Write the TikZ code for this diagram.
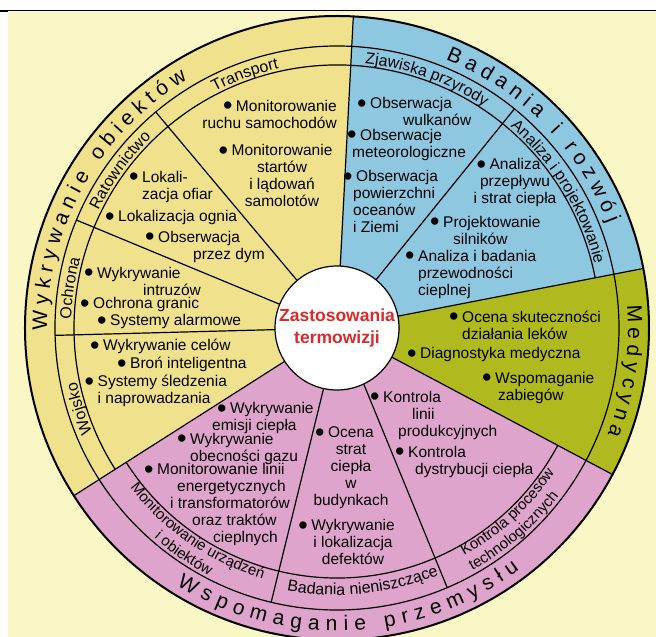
\documentclass[tikz,border=0pt]{standalone}
\usepackage{fontspec}
\setmainfont{Liberation Sans}
\usetikzlibrary{decorations.text}

\definecolor{pagebg}{HTML}{FAF7C6}
\definecolor{yelsec}{HTML}{F0E18C}
\definecolor{bluesec}{HTML}{8EC7E0}
\definecolor{greensec}{HTML}{B0BA1E}
\definecolor{pinksec}{HTML}{DEA4CC}
\definecolor{hubred}{HTML}{DC2A2A}

% bullet hanging left of the first line
\newcommand{\bul}{\llap{\raisebox{-3.8pt}{\fontsize{27}{17}\selectfont\textbullet}\hspace{3.5pt}}}
\newcommand{\ringfont}{\fontsize{21}{23}\selectfont}
\newcommand{\subfont}{\fontsize{16}{18}\selectfont}
\newcommand{\pairfont}{\fontsize{15}{17}\selectfont}

\begin{document}
\begin{tikzpicture}[
        x=1pt, y=1pt,
        item/.style={font=\fontsize{15.5}{17}\selectfont, inner sep=0pt, align=left, anchor=west},
        itemc/.style={item, align=center, anchor=center},
        itemr/.style={item, align=right, anchor=east},
        sep/.style={line width=1.2pt},
        ringtext/.style={decorate, decoration={text along path, text align=fit to path, text={|\ringfont|#1}}},
        subtext/.style={decorate, decoration={text along path, text align=center, text={|\subfont|#1}}},
        pairtext/.style={decorate, decoration={text along path, text align=center, text={|\pairfont|#1}}}
        ]

        % page
        \useasboundingbox (-337,-309) rectangle (319,328);
        \fill[white] (-337,-309) rectangle (319,328);
        \fill[pagebg] (-329,-309) rectangle (319,317.5);
        \draw[line width=0.9pt] (-337,318) -- (319,318);
        \fill[black] (-337,318.3) rectangle (-329,315.5);

        % sectors
        \fill[yelsec] (0,0) -- (87:312) arc[start angle=87, end angle=212.5, radius=312] -- cycle;
        \fill[bluesec] (0,0) -- (11:312) arc[start angle=11, end angle=87, radius=312] -- cycle;
        \fill[greensec] (0,0) -- (-28:312) arc[start angle=-28, end angle=11, radius=312] -- cycle;
        \fill[pinksec] (0,0) -- (212.5:312) arc[start angle=212.5, end angle=332, radius=312] -- cycle;

        % rings
        \draw[line width=2pt] (0,0) circle[radius=312];
        \draw[sep] (0,0) circle[radius=282];
        \draw[sep] (11:263) arc[start angle=11, end angle=212.5, radius=263];
        \draw[sep] (212.5:250) arc[start angle=212.5, end angle=332, radius=250];

        % dividers
        \foreach \a in {87,11,-28,212.5}
        \draw[sep] (\a:62) -- (\a:312);
        \foreach \a in {130,157.5,181.5,51}
        \draw[sep] (\a:62) -- (\a:282);
        \draw[sep] (257.5:62) -- (256.5:282);
        \draw[sep] (295.5:62) -- (293:282);

        % hub
        \node[circle, draw, line width=1.2pt, fill=white, minimum size=124pt, inner sep=0pt,
              font=\bfseries\fontsize{17.5}{21.5}\selectfont, text=hubred, align=center] (hub) at (0,0) {Zastosowania\\termowizji};

        % main labels
        \path[ringtext=Wykrywanie obiektów] (180.5:290) arc[start angle=180.5, end angle=121, radius=290];
        \path[ringtext=Badania i rozwój] (68:290) arc[start angle=68, end angle=21, radius=290];
        \path[ringtext=Medycyna] (4.5:291) arc[start angle=4.5, end angle=-21.5, radius=291];
        \path[ringtext=Wspomaganie przemysłu] (238:303) arc[start angle=238, end angle=307, radius=303];

        % sub labels
        \path[subtext=Transport] (140:266) arc[start angle=140, end angle=80, radius=266];
        \path[subtext=Ratownictwo] (174:266) arc[start angle=174, end angle=114, radius=266];
        \path[subtext=Ochrona] (201.5:266) arc[start angle=201.5, end angle=141.5, radius=266];
        \path[subtext=Wojsko] (227.4:266) arc[start angle=227.4, end angle=167.4, radius=266];
        \path[subtext=Zjawiska przyrody] (100.2:266) arc[start angle=100.2, end angle=40.2, radius=266];
        \path[subtext=Analiza i projektowanie] (61.6:265.5) arc[start angle=61.6, end angle=1.6, radius=265.5];
        \path[pairtext=Monitorowanie urządzeń] (205.6:261.5) arc[start angle=205.6, end angle=265.6, radius=261.5];
        \path[pairtext=i obiektów] (205.8:278.5) arc[start angle=205.8, end angle=265.8, radius=278.5];
        \path[subtext=Badania nieniszczące] (245.8:267) arc[start angle=245.8, end angle=305.8, radius=267];
        \path[pairtext=Kontrola procesów] (282.8:261) arc[start angle=282.8, end angle=342.8, radius=261];
        \path[pairtext=technologicznych] (281:278) arc[start angle=281, end angle=341, radius=278];

        % Wykrywanie obiektow
        \node[itemr] (ruch) at (0,214) {\bul Monitorowanie\\ruchu samochodów};
        \node[itemc] (starty) at (-55,152.75) {\bul Monitorowanie\\startów\\i lądowań\\samolotów};
        \node[item] (ofiary) at (-195,141.5) {\bul Lokali-\\zacja ofiar};
        \node[item] (ogien) at (-219,110) {\bul Lokalizacja ognia};
        \node[item] (dym) at (-179,81.5) {\bul Obserwacja\\\hspace*{35pt}przez dym};
        \node[item] (intruzi) at (-240,47) {\bul Wykrywanie\\\hspace*{46pt}intruzów};
        \node[item] (granice) at (-244,23) {\bul Ochrona granic};
        \node[item] (alarmy) at (-227,6) {\bul Systemy alarmowe};
        \node[item] (cele) at (-234,-19) {\bul Wykrywanie celów};
        \node[item] (bron) at (-207,-37) {\bul Broń inteligentna};
        \node[item] (sledzenie) at (-239.5,-63) {\bul Systemy śledzenia\\i naprowadzania};

        % Badania i rozwoj
        \node[item] (wulkany) at (33,216.5) {\bul Obserwacja\\\hspace*{33pt}wulkanów};
        \node[item] (meteo) at (15,183.5) {\hspace*{8pt}\bul Obserwacje\\meteorologiczne};
        \node[item] (oceany) at (16,126.25) {\hspace*{3pt}\bul Obserwacja\\powierzchni\\oceanów\\i Ziemi};
        \node[itemc] (przeplyw) at (178,145.3) {\bul Analiza\\przepływu\\i strat ciepła};
        \node[item] (silniki) at (106,98) {\bul Projektowanie\\\hspace*{10pt}silników};
        \node[item] (przewodnosc) at (81,54) {\bul Analiza i badania\\przewodności\\cieplnej};

        % Medycyna
        \node[item] (leki) at (125,3) {\bul Ocena skuteczności\\działania leków};
        \node[item] (diagnostyka) at (83,-27) {\bul Diagnostyka medyczna};
        \node[item] (zabiegi) at (158,-59.5) {\bul Wspomaganie\\\hspace*{3pt}zabiegów};

        % Wspomaganie przemyslu
        \node[item] (emisja) at (-125,-90) {\hspace*{18pt}\bul Wykrywanie\\emisji ciepła};
        \node[item] (gaz) at (-147,-120.5) {\bul Wykrywanie\\obecności gazu};
        \node[item] (linie) at (-180,-176.4) {\bul Monitorowanie linii\\\hspace*{20pt}energetycznych\\\hspace*{13pt}i transformatorów\\\hspace*{35pt}oraz traktów\\\hspace*{56pt}cieplnych};
        \node[itemc] (straty) at (14,-139.4) {\bul Ocena\\strat\\ciepła\\w\\budynkach};
        \node[itemc] (defekty) at (16,-213.7) {\bul Wykrywanie\\i lokalizacja\\defektów};
        \node[item] (produkcja) at (46,-87) {\bul Kontrola\\\hspace*{29pt}linii\\\hspace*{15pt}produkcyjnych};
        \node[item] (dystrybucja) at (71,-133.5) {\bul Kontrola\\\hspace*{7pt}dystrybucji ciepła};
\end{tikzpicture}
\end{document}
